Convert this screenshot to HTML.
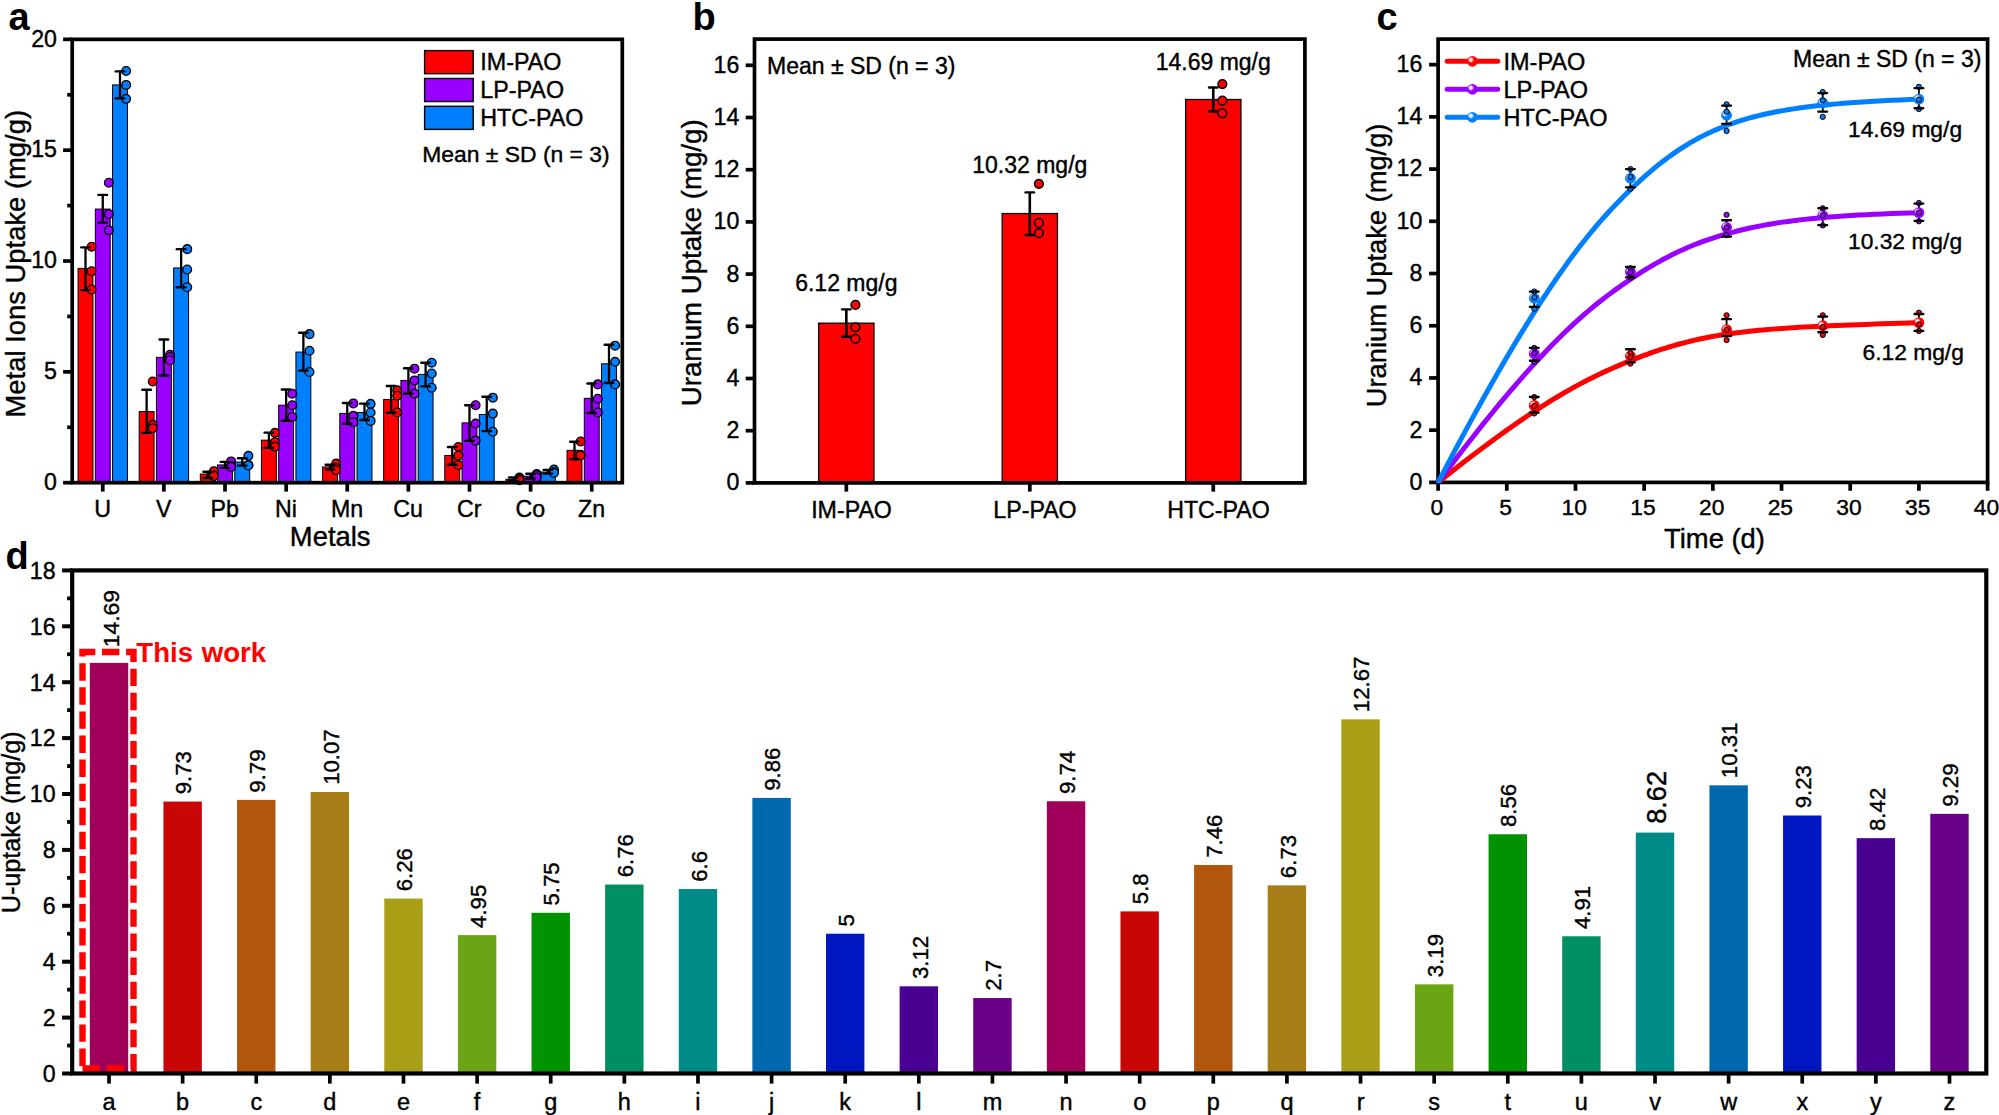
<!DOCTYPE html>
<html lang="en"><head><meta charset="utf-8"><title>Figure</title>
<style>html,body{margin:0;padding:0;background:#fff;}body{width:1999px;height:1115px;overflow:hidden;}svg text{font-family:"Liberation Sans",Arial,sans-serif;}</style></head>
<body>
<svg width="1999" height="1115" viewBox="0 0 1999 1115" font-family="'Liberation Sans', Arial, sans-serif" style="display:block">
<rect width="1999" height="1115" fill="#fff"/>
<rect x="78.06" y="268.4" width="14.9" height="214.3" fill="#ff0000" stroke="#000" stroke-width="1"/>
<rect x="95.31" y="209.08" width="14.9" height="273.62" fill="#9a00ff" stroke="#000" stroke-width="1"/>
<rect x="112.56" y="84.9" width="14.9" height="397.8" fill="#0080ff" stroke="#000" stroke-width="1"/>
<circle cx="91.61" cy="246.7" r="4.35" fill="#ff0000" stroke="#000" stroke-width="1.35"/>
<circle cx="91.61" cy="271.27" r="4.35" fill="#ff0000" stroke="#000" stroke-width="1.35"/>
<circle cx="91.61" cy="289.43" r="4.35" fill="#ff0000" stroke="#000" stroke-width="1.35"/>
<line x1="85.51" y1="247.37" x2="85.51" y2="290.09" stroke="#000" stroke-width="2.3" />
<line x1="81.21" y1="247.37" x2="89.81" y2="247.37" stroke="#000" stroke-width="2.4" stroke-linecap="round"/>
<line x1="81.21" y1="290.09" x2="89.81" y2="290.09" stroke="#000" stroke-width="2.4" stroke-linecap="round"/>
<circle cx="108.86" cy="182.73" r="4.35" fill="#9a00ff" stroke="#000" stroke-width="1.35"/>
<circle cx="108.86" cy="214.17" r="4.35" fill="#9a00ff" stroke="#000" stroke-width="1.35"/>
<circle cx="108.86" cy="230.33" r="4.35" fill="#9a00ff" stroke="#000" stroke-width="1.35"/>
<line x1="102.76" y1="194.91" x2="102.76" y2="222.58" stroke="#000" stroke-width="2.3" />
<line x1="98.46" y1="194.91" x2="107.06" y2="194.91" stroke="#000" stroke-width="2.4" stroke-linecap="round"/>
<line x1="98.46" y1="222.58" x2="107.06" y2="222.58" stroke="#000" stroke-width="2.4" stroke-linecap="round"/>
<circle cx="126.11" cy="70.95" r="4.35" fill="#0080ff" stroke="#000" stroke-width="1.35"/>
<circle cx="126.11" cy="84.9" r="4.35" fill="#0080ff" stroke="#000" stroke-width="1.35"/>
<circle cx="126.11" cy="98.84" r="4.35" fill="#0080ff" stroke="#000" stroke-width="1.35"/>
<line x1="120.01" y1="71.4" x2="120.01" y2="98.4" stroke="#000" stroke-width="2.3" />
<line x1="115.71" y1="71.4" x2="124.31" y2="71.4" stroke="#000" stroke-width="2.4" stroke-linecap="round"/>
<line x1="115.71" y1="98.4" x2="124.31" y2="98.4" stroke="#000" stroke-width="2.4" stroke-linecap="round"/>
<rect x="139.18" y="411.61" width="14.9" height="71.09" fill="#ff0000" stroke="#000" stroke-width="1"/>
<rect x="156.43" y="357.38" width="14.9" height="125.32" fill="#9a00ff" stroke="#000" stroke-width="1"/>
<rect x="173.68" y="267.95" width="14.9" height="214.75" fill="#0080ff" stroke="#000" stroke-width="1"/>
<circle cx="152.73" cy="381.51" r="4.35" fill="#ff0000" stroke="#000" stroke-width="1.35"/>
<circle cx="152.73" cy="424.89" r="4.35" fill="#ff0000" stroke="#000" stroke-width="1.35"/>
<circle cx="152.73" cy="428.21" r="4.35" fill="#ff0000" stroke="#000" stroke-width="1.35"/>
<line x1="146.63" y1="389.7" x2="146.63" y2="432.86" stroke="#000" stroke-width="2.3" />
<line x1="142.33" y1="389.7" x2="150.93" y2="389.7" stroke="#000" stroke-width="2.4" stroke-linecap="round"/>
<line x1="142.33" y1="432.86" x2="150.93" y2="432.86" stroke="#000" stroke-width="2.4" stroke-linecap="round"/>
<circle cx="169.98" cy="354.72" r="4.35" fill="#9a00ff" stroke="#000" stroke-width="1.35"/>
<circle cx="169.98" cy="356.94" r="4.35" fill="#9a00ff" stroke="#000" stroke-width="1.35"/>
<circle cx="169.98" cy="360.26" r="4.35" fill="#9a00ff" stroke="#000" stroke-width="1.35"/>
<line x1="163.88" y1="339.45" x2="163.88" y2="375.53" stroke="#000" stroke-width="2.3" />
<line x1="159.58" y1="339.45" x2="168.18" y2="339.45" stroke="#000" stroke-width="2.4" stroke-linecap="round"/>
<line x1="159.58" y1="375.53" x2="168.18" y2="375.53" stroke="#000" stroke-width="2.4" stroke-linecap="round"/>
<circle cx="187.23" cy="249.14" r="4.35" fill="#0080ff" stroke="#000" stroke-width="1.35"/>
<circle cx="187.23" cy="269.5" r="4.35" fill="#0080ff" stroke="#000" stroke-width="1.35"/>
<circle cx="187.23" cy="287.21" r="4.35" fill="#0080ff" stroke="#000" stroke-width="1.35"/>
<line x1="181.13" y1="249.14" x2="181.13" y2="287.21" stroke="#000" stroke-width="2.3" />
<line x1="176.83" y1="249.14" x2="185.43" y2="249.14" stroke="#000" stroke-width="2.4" stroke-linecap="round"/>
<line x1="176.83" y1="287.21" x2="185.43" y2="287.21" stroke="#000" stroke-width="2.4" stroke-linecap="round"/>
<rect x="200.31" y="474.03" width="14.9" height="8.67" fill="#ff0000" stroke="#000" stroke-width="1"/>
<rect x="217.56" y="464.96" width="14.9" height="17.74" fill="#9a00ff" stroke="#000" stroke-width="1"/>
<rect x="234.81" y="462.08" width="14.9" height="20.62" fill="#0080ff" stroke="#000" stroke-width="1"/>
<circle cx="213.86" cy="471.15" r="4.35" fill="#ff0000" stroke="#000" stroke-width="1.35"/>
<circle cx="213.86" cy="475.58" r="4.35" fill="#ff0000" stroke="#000" stroke-width="1.35"/>
<circle cx="213.86" cy="476.02" r="4.35" fill="#ff0000" stroke="#000" stroke-width="1.35"/>
<line x1="207.76" y1="471.82" x2="207.76" y2="478.02" stroke="#000" stroke-width="2.3" />
<line x1="203.46" y1="471.82" x2="212.06" y2="471.82" stroke="#000" stroke-width="2.4" stroke-linecap="round"/>
<line x1="203.46" y1="478.02" x2="212.06" y2="478.02" stroke="#000" stroke-width="2.4" stroke-linecap="round"/>
<circle cx="231.11" cy="461.41" r="4.35" fill="#9a00ff" stroke="#000" stroke-width="1.35"/>
<circle cx="231.11" cy="466.06" r="4.35" fill="#9a00ff" stroke="#000" stroke-width="1.35"/>
<circle cx="231.11" cy="466.95" r="4.35" fill="#9a00ff" stroke="#000" stroke-width="1.35"/>
<line x1="225.01" y1="461.86" x2="225.01" y2="467.83" stroke="#000" stroke-width="2.3" />
<line x1="220.71" y1="461.86" x2="229.31" y2="461.86" stroke="#000" stroke-width="2.4" stroke-linecap="round"/>
<line x1="220.71" y1="467.83" x2="229.31" y2="467.83" stroke="#000" stroke-width="2.4" stroke-linecap="round"/>
<circle cx="248.36" cy="455.88" r="4.35" fill="#0080ff" stroke="#000" stroke-width="1.35"/>
<circle cx="248.36" cy="464.96" r="4.35" fill="#0080ff" stroke="#000" stroke-width="1.35"/>
<circle cx="248.36" cy="465.4" r="4.35" fill="#0080ff" stroke="#000" stroke-width="1.35"/>
<line x1="242.26" y1="458.32" x2="242.26" y2="465.62" stroke="#000" stroke-width="2.3" />
<line x1="237.96" y1="458.32" x2="246.56" y2="458.32" stroke="#000" stroke-width="2.4" stroke-linecap="round"/>
<line x1="237.96" y1="465.62" x2="246.56" y2="465.62" stroke="#000" stroke-width="2.4" stroke-linecap="round"/>
<rect x="261.43" y="440.16" width="14.9" height="42.54" fill="#ff0000" stroke="#000" stroke-width="1"/>
<rect x="278.68" y="405.19" width="14.9" height="77.51" fill="#9a00ff" stroke="#000" stroke-width="1"/>
<rect x="295.93" y="352.07" width="14.9" height="130.63" fill="#0080ff" stroke="#000" stroke-width="1"/>
<circle cx="274.98" cy="432.86" r="4.35" fill="#ff0000" stroke="#000" stroke-width="1.35"/>
<circle cx="274.98" cy="442.16" r="4.35" fill="#ff0000" stroke="#000" stroke-width="1.35"/>
<circle cx="274.98" cy="446.58" r="4.35" fill="#ff0000" stroke="#000" stroke-width="1.35"/>
<line x1="268.88" y1="432.64" x2="268.88" y2="447.91" stroke="#000" stroke-width="2.3" />
<line x1="264.58" y1="432.64" x2="273.18" y2="432.64" stroke="#000" stroke-width="2.4" stroke-linecap="round"/>
<line x1="264.58" y1="447.91" x2="273.18" y2="447.91" stroke="#000" stroke-width="2.4" stroke-linecap="round"/>
<circle cx="292.23" cy="393.68" r="4.35" fill="#9a00ff" stroke="#000" stroke-width="1.35"/>
<circle cx="292.23" cy="405.19" r="4.35" fill="#9a00ff" stroke="#000" stroke-width="1.35"/>
<circle cx="292.23" cy="416.92" r="4.35" fill="#9a00ff" stroke="#000" stroke-width="1.35"/>
<line x1="286.13" y1="389.48" x2="286.13" y2="420.69" stroke="#000" stroke-width="2.3" />
<line x1="281.83" y1="389.48" x2="290.43" y2="389.48" stroke="#000" stroke-width="2.4" stroke-linecap="round"/>
<line x1="281.83" y1="420.69" x2="290.43" y2="420.69" stroke="#000" stroke-width="2.4" stroke-linecap="round"/>
<circle cx="309.48" cy="334.14" r="4.35" fill="#0080ff" stroke="#000" stroke-width="1.35"/>
<circle cx="309.48" cy="350.74" r="4.35" fill="#0080ff" stroke="#000" stroke-width="1.35"/>
<circle cx="309.48" cy="371.99" r="4.35" fill="#0080ff" stroke="#000" stroke-width="1.35"/>
<line x1="303.38" y1="332.81" x2="303.38" y2="370.66" stroke="#000" stroke-width="2.3" />
<line x1="299.08" y1="332.81" x2="307.68" y2="332.81" stroke="#000" stroke-width="2.4" stroke-linecap="round"/>
<line x1="299.08" y1="370.66" x2="307.68" y2="370.66" stroke="#000" stroke-width="2.4" stroke-linecap="round"/>
<rect x="322.55" y="466.95" width="14.9" height="15.75" fill="#ff0000" stroke="#000" stroke-width="1"/>
<rect x="339.8" y="413.38" width="14.9" height="69.32" fill="#9a00ff" stroke="#000" stroke-width="1"/>
<rect x="357.05" y="412.5" width="14.9" height="70.2" fill="#0080ff" stroke="#000" stroke-width="1"/>
<circle cx="336.1" cy="463.63" r="4.35" fill="#ff0000" stroke="#000" stroke-width="1.35"/>
<circle cx="336.1" cy="467.83" r="4.35" fill="#ff0000" stroke="#000" stroke-width="1.35"/>
<circle cx="336.1" cy="470.27" r="4.35" fill="#ff0000" stroke="#000" stroke-width="1.35"/>
<line x1="330" y1="464.73" x2="330" y2="469.6" stroke="#000" stroke-width="2.3" />
<line x1="325.7" y1="464.73" x2="334.3" y2="464.73" stroke="#000" stroke-width="2.4" stroke-linecap="round"/>
<line x1="325.7" y1="469.6" x2="334.3" y2="469.6" stroke="#000" stroke-width="2.4" stroke-linecap="round"/>
<circle cx="353.35" cy="403.42" r="4.35" fill="#9a00ff" stroke="#000" stroke-width="1.35"/>
<circle cx="353.35" cy="415.82" r="4.35" fill="#9a00ff" stroke="#000" stroke-width="1.35"/>
<circle cx="353.35" cy="422.24" r="4.35" fill="#9a00ff" stroke="#000" stroke-width="1.35"/>
<line x1="347.25" y1="402.98" x2="347.25" y2="423.78" stroke="#000" stroke-width="2.3" />
<line x1="342.95" y1="402.98" x2="351.55" y2="402.98" stroke="#000" stroke-width="2.4" stroke-linecap="round"/>
<line x1="342.95" y1="423.78" x2="351.55" y2="423.78" stroke="#000" stroke-width="2.4" stroke-linecap="round"/>
<circle cx="370.6" cy="403.86" r="4.35" fill="#0080ff" stroke="#000" stroke-width="1.35"/>
<circle cx="370.6" cy="412.5" r="4.35" fill="#0080ff" stroke="#000" stroke-width="1.35"/>
<circle cx="370.6" cy="420.91" r="4.35" fill="#0080ff" stroke="#000" stroke-width="1.35"/>
<line x1="364.5" y1="403.64" x2="364.5" y2="420.02" stroke="#000" stroke-width="2.3" />
<line x1="360.2" y1="403.64" x2="368.8" y2="403.64" stroke="#000" stroke-width="2.4" stroke-linecap="round"/>
<line x1="360.2" y1="420.02" x2="368.8" y2="420.02" stroke="#000" stroke-width="2.4" stroke-linecap="round"/>
<rect x="383.67" y="399.44" width="14.9" height="83.26" fill="#ff0000" stroke="#000" stroke-width="1"/>
<rect x="400.92" y="380.4" width="14.9" height="102.3" fill="#9a00ff" stroke="#000" stroke-width="1"/>
<rect x="418.17" y="374.42" width="14.9" height="108.28" fill="#0080ff" stroke="#000" stroke-width="1"/>
<circle cx="397.22" cy="390.36" r="4.35" fill="#ff0000" stroke="#000" stroke-width="1.35"/>
<circle cx="397.22" cy="395.67" r="4.35" fill="#ff0000" stroke="#000" stroke-width="1.35"/>
<circle cx="397.22" cy="412.5" r="4.35" fill="#ff0000" stroke="#000" stroke-width="1.35"/>
<line x1="391.12" y1="385.93" x2="391.12" y2="412.72" stroke="#000" stroke-width="2.3" />
<line x1="386.82" y1="385.93" x2="395.42" y2="385.93" stroke="#000" stroke-width="2.4" stroke-linecap="round"/>
<line x1="386.82" y1="412.72" x2="395.42" y2="412.72" stroke="#000" stroke-width="2.4" stroke-linecap="round"/>
<circle cx="414.47" cy="368.67" r="4.35" fill="#9a00ff" stroke="#000" stroke-width="1.35"/>
<circle cx="414.47" cy="380.4" r="4.35" fill="#9a00ff" stroke="#000" stroke-width="1.35"/>
<circle cx="414.47" cy="393.68" r="4.35" fill="#9a00ff" stroke="#000" stroke-width="1.35"/>
<line x1="408.37" y1="368.23" x2="408.37" y2="393.68" stroke="#000" stroke-width="2.3" />
<line x1="404.07" y1="368.23" x2="412.67" y2="368.23" stroke="#000" stroke-width="2.4" stroke-linecap="round"/>
<line x1="404.07" y1="393.68" x2="412.67" y2="393.68" stroke="#000" stroke-width="2.4" stroke-linecap="round"/>
<circle cx="431.72" cy="362.69" r="4.35" fill="#0080ff" stroke="#000" stroke-width="1.35"/>
<circle cx="431.72" cy="373.54" r="4.35" fill="#0080ff" stroke="#000" stroke-width="1.35"/>
<circle cx="431.72" cy="387.7" r="4.35" fill="#0080ff" stroke="#000" stroke-width="1.35"/>
<line x1="425.62" y1="362.69" x2="425.62" y2="386.38" stroke="#000" stroke-width="2.3" />
<line x1="421.32" y1="362.69" x2="429.92" y2="362.69" stroke="#000" stroke-width="2.4" stroke-linecap="round"/>
<line x1="421.32" y1="386.38" x2="429.92" y2="386.38" stroke="#000" stroke-width="2.4" stroke-linecap="round"/>
<rect x="444.79" y="455.44" width="14.9" height="27.26" fill="#ff0000" stroke="#000" stroke-width="1"/>
<rect x="462.04" y="422.9" width="14.9" height="59.8" fill="#9a00ff" stroke="#000" stroke-width="1"/>
<rect x="479.29" y="414.49" width="14.9" height="68.21" fill="#0080ff" stroke="#000" stroke-width="1"/>
<circle cx="458.34" cy="447.03" r="4.35" fill="#ff0000" stroke="#000" stroke-width="1.35"/>
<circle cx="458.34" cy="455.44" r="4.35" fill="#ff0000" stroke="#000" stroke-width="1.35"/>
<circle cx="458.34" cy="465.18" r="4.35" fill="#ff0000" stroke="#000" stroke-width="1.35"/>
<line x1="452.24" y1="447.03" x2="452.24" y2="464.73" stroke="#000" stroke-width="2.3" />
<line x1="447.94" y1="447.03" x2="456.54" y2="447.03" stroke="#000" stroke-width="2.4" stroke-linecap="round"/>
<line x1="447.94" y1="464.73" x2="456.54" y2="464.73" stroke="#000" stroke-width="2.4" stroke-linecap="round"/>
<circle cx="475.59" cy="405.19" r="4.35" fill="#9a00ff" stroke="#000" stroke-width="1.35"/>
<circle cx="475.59" cy="423.56" r="4.35" fill="#9a00ff" stroke="#000" stroke-width="1.35"/>
<circle cx="475.59" cy="440.61" r="4.35" fill="#9a00ff" stroke="#000" stroke-width="1.35"/>
<line x1="469.49" y1="405.19" x2="469.49" y2="440.83" stroke="#000" stroke-width="2.3" />
<line x1="465.19" y1="405.19" x2="473.79" y2="405.19" stroke="#000" stroke-width="2.4" stroke-linecap="round"/>
<line x1="465.19" y1="440.83" x2="473.79" y2="440.83" stroke="#000" stroke-width="2.4" stroke-linecap="round"/>
<circle cx="492.84" cy="397.67" r="4.35" fill="#0080ff" stroke="#000" stroke-width="1.35"/>
<circle cx="492.84" cy="413.6" r="4.35" fill="#0080ff" stroke="#000" stroke-width="1.35"/>
<circle cx="492.84" cy="431.75" r="4.35" fill="#0080ff" stroke="#000" stroke-width="1.35"/>
<line x1="486.74" y1="396.78" x2="486.74" y2="431.09" stroke="#000" stroke-width="2.3" />
<line x1="482.44" y1="396.78" x2="491.04" y2="396.78" stroke="#000" stroke-width="2.4" stroke-linecap="round"/>
<line x1="482.44" y1="431.09" x2="491.04" y2="431.09" stroke="#000" stroke-width="2.4" stroke-linecap="round"/>
<rect x="505.92" y="479.34" width="14.9" height="3.36" fill="#ff0000" stroke="#000" stroke-width="1"/>
<rect x="523.17" y="476.24" width="14.9" height="6.46" fill="#9a00ff" stroke="#000" stroke-width="1"/>
<rect x="540.42" y="472.04" width="14.9" height="10.66" fill="#0080ff" stroke="#000" stroke-width="1"/>
<circle cx="519.47" cy="477.57" r="4.35" fill="#ff0000" stroke="#000" stroke-width="1.35"/>
<circle cx="519.47" cy="479.34" r="4.35" fill="#ff0000" stroke="#000" stroke-width="1.35"/>
<circle cx="519.47" cy="480.23" r="4.35" fill="#ff0000" stroke="#000" stroke-width="1.35"/>
<line x1="513.37" y1="477.57" x2="513.37" y2="480.89" stroke="#000" stroke-width="2.3" />
<line x1="509.07" y1="477.57" x2="517.67" y2="477.57" stroke="#000" stroke-width="2.4" stroke-linecap="round"/>
<line x1="509.07" y1="480.89" x2="517.67" y2="480.89" stroke="#000" stroke-width="2.4" stroke-linecap="round"/>
<circle cx="536.72" cy="474.03" r="4.35" fill="#9a00ff" stroke="#000" stroke-width="1.35"/>
<circle cx="536.72" cy="475.14" r="4.35" fill="#9a00ff" stroke="#000" stroke-width="1.35"/>
<circle cx="536.72" cy="477.57" r="4.35" fill="#9a00ff" stroke="#000" stroke-width="1.35"/>
<line x1="530.62" y1="473.81" x2="530.62" y2="478.46" stroke="#000" stroke-width="2.3" />
<line x1="526.32" y1="473.81" x2="534.92" y2="473.81" stroke="#000" stroke-width="2.4" stroke-linecap="round"/>
<line x1="526.32" y1="478.46" x2="534.92" y2="478.46" stroke="#000" stroke-width="2.4" stroke-linecap="round"/>
<circle cx="553.97" cy="469.6" r="4.35" fill="#0080ff" stroke="#000" stroke-width="1.35"/>
<circle cx="553.97" cy="472.04" r="4.35" fill="#0080ff" stroke="#000" stroke-width="1.35"/>
<circle cx="553.97" cy="472.92" r="4.35" fill="#0080ff" stroke="#000" stroke-width="1.35"/>
<line x1="547.87" y1="469.83" x2="547.87" y2="473.59" stroke="#000" stroke-width="2.3" />
<line x1="543.57" y1="469.83" x2="552.17" y2="469.83" stroke="#000" stroke-width="2.4" stroke-linecap="round"/>
<line x1="543.57" y1="473.59" x2="552.17" y2="473.59" stroke="#000" stroke-width="2.4" stroke-linecap="round"/>
<rect x="567.04" y="450.35" width="14.9" height="32.35" fill="#ff0000" stroke="#000" stroke-width="1"/>
<rect x="584.29" y="398.33" width="14.9" height="84.37" fill="#9a00ff" stroke="#000" stroke-width="1"/>
<rect x="601.54" y="363.8" width="14.9" height="118.9" fill="#0080ff" stroke="#000" stroke-width="1"/>
<circle cx="580.59" cy="441.49" r="4.35" fill="#ff0000" stroke="#000" stroke-width="1.35"/>
<circle cx="580.59" cy="455" r="4.35" fill="#ff0000" stroke="#000" stroke-width="1.35"/>
<circle cx="580.59" cy="455.44" r="4.35" fill="#ff0000" stroke="#000" stroke-width="1.35"/>
<line x1="574.49" y1="441.71" x2="574.49" y2="459.2" stroke="#000" stroke-width="2.3" />
<line x1="570.19" y1="441.71" x2="578.79" y2="441.71" stroke="#000" stroke-width="2.4" stroke-linecap="round"/>
<line x1="570.19" y1="459.2" x2="578.79" y2="459.2" stroke="#000" stroke-width="2.4" stroke-linecap="round"/>
<circle cx="597.84" cy="384.38" r="4.35" fill="#9a00ff" stroke="#000" stroke-width="1.35"/>
<circle cx="597.84" cy="398.77" r="4.35" fill="#9a00ff" stroke="#000" stroke-width="1.35"/>
<circle cx="597.84" cy="412.5" r="4.35" fill="#9a00ff" stroke="#000" stroke-width="1.35"/>
<line x1="591.74" y1="383.5" x2="591.74" y2="412.94" stroke="#000" stroke-width="2.3" />
<line x1="587.44" y1="383.5" x2="596.04" y2="383.5" stroke="#000" stroke-width="2.4" stroke-linecap="round"/>
<line x1="587.44" y1="412.94" x2="596.04" y2="412.94" stroke="#000" stroke-width="2.4" stroke-linecap="round"/>
<circle cx="615.09" cy="345.65" r="4.35" fill="#0080ff" stroke="#000" stroke-width="1.35"/>
<circle cx="615.09" cy="361.81" r="4.35" fill="#0080ff" stroke="#000" stroke-width="1.35"/>
<circle cx="615.09" cy="384.38" r="4.35" fill="#0080ff" stroke="#000" stroke-width="1.35"/>
<line x1="608.99" y1="344.76" x2="608.99" y2="383.06" stroke="#000" stroke-width="2.3" />
<line x1="604.69" y1="344.76" x2="613.29" y2="344.76" stroke="#000" stroke-width="2.4" stroke-linecap="round"/>
<line x1="604.69" y1="383.06" x2="613.29" y2="383.06" stroke="#000" stroke-width="2.4" stroke-linecap="round"/>
<line x1="63.1" y1="482.7" x2="72.2" y2="482.7" stroke="#000" stroke-width="3.7" />
<text x="57" y="490" font-size="23.2" text-anchor="end" font-weight="normal" fill="#000" stroke="#000" stroke-width="0.4" >0</text>
<line x1="63.1" y1="371.86" x2="72.2" y2="371.86" stroke="#000" stroke-width="3.7" />
<text x="57" y="379.16" font-size="23.2" text-anchor="end" font-weight="normal" fill="#000" stroke="#000" stroke-width="0.4" >5</text>
<line x1="63.1" y1="261.03" x2="72.2" y2="261.03" stroke="#000" stroke-width="3.7" />
<text x="57" y="268.33" font-size="23.2" text-anchor="end" font-weight="normal" fill="#000" stroke="#000" stroke-width="0.4" >10</text>
<line x1="63.1" y1="150.19" x2="72.2" y2="150.19" stroke="#000" stroke-width="3.7" />
<text x="57" y="157.49" font-size="23.2" text-anchor="end" font-weight="normal" fill="#000" stroke="#000" stroke-width="0.4" >15</text>
<line x1="63.1" y1="39.35" x2="72.2" y2="39.35" stroke="#000" stroke-width="3.7" />
<text x="57" y="46.65" font-size="23.2" text-anchor="end" font-weight="normal" fill="#000" stroke="#000" stroke-width="0.4" >20</text>
<line x1="67.2" y1="427.28" x2="72.2" y2="427.28" stroke="#000" stroke-width="3.7" />
<line x1="67.2" y1="316.44" x2="72.2" y2="316.44" stroke="#000" stroke-width="3.7" />
<line x1="67.2" y1="205.61" x2="72.2" y2="205.61" stroke="#000" stroke-width="3.7" />
<line x1="67.2" y1="94.77" x2="72.2" y2="94.77" stroke="#000" stroke-width="3.7" />
<line x1="102.76" y1="482.7" x2="102.76" y2="491.6" stroke="#000" stroke-width="3.7" />
<text x="102.56" y="516.6" font-size="23.2" text-anchor="middle" font-weight="normal" fill="#000" stroke="#000" stroke-width="0.4" >U</text>
<line x1="163.88" y1="482.7" x2="163.88" y2="491.6" stroke="#000" stroke-width="3.7" />
<text x="163.68" y="516.6" font-size="23.2" text-anchor="middle" font-weight="normal" fill="#000" stroke="#000" stroke-width="0.4" >V</text>
<line x1="225.01" y1="482.7" x2="225.01" y2="491.6" stroke="#000" stroke-width="3.7" />
<text x="224.81" y="516.6" font-size="23.2" text-anchor="middle" font-weight="normal" fill="#000" stroke="#000" stroke-width="0.4" >Pb</text>
<line x1="286.13" y1="482.7" x2="286.13" y2="491.6" stroke="#000" stroke-width="3.7" />
<text x="285.93" y="516.6" font-size="23.2" text-anchor="middle" font-weight="normal" fill="#000" stroke="#000" stroke-width="0.4" >Ni</text>
<line x1="347.25" y1="482.7" x2="347.25" y2="491.6" stroke="#000" stroke-width="3.7" />
<text x="347.05" y="516.6" font-size="23.2" text-anchor="middle" font-weight="normal" fill="#000" stroke="#000" stroke-width="0.4" >Mn</text>
<line x1="408.37" y1="482.7" x2="408.37" y2="491.6" stroke="#000" stroke-width="3.7" />
<text x="408.17" y="516.6" font-size="23.2" text-anchor="middle" font-weight="normal" fill="#000" stroke="#000" stroke-width="0.4" >Cu</text>
<line x1="469.49" y1="482.7" x2="469.49" y2="491.6" stroke="#000" stroke-width="3.7" />
<text x="469.29" y="516.6" font-size="23.2" text-anchor="middle" font-weight="normal" fill="#000" stroke="#000" stroke-width="0.4" >Cr</text>
<line x1="530.62" y1="482.7" x2="530.62" y2="491.6" stroke="#000" stroke-width="3.7" />
<text x="530.42" y="516.6" font-size="23.2" text-anchor="middle" font-weight="normal" fill="#000" stroke="#000" stroke-width="0.4" >Co</text>
<line x1="591.74" y1="482.7" x2="591.74" y2="491.6" stroke="#000" stroke-width="3.7" />
<text x="591.54" y="516.6" font-size="23.2" text-anchor="middle" font-weight="normal" fill="#000" stroke="#000" stroke-width="0.4" >Zn</text>
<rect x="72.2" y="39.35" width="550.1" height="443.35" fill="none" stroke="#000" stroke-width="3.7"/>
<text x="330.2" y="545.6" font-size="27.4" text-anchor="middle" font-weight="normal" fill="#000" stroke="#000" stroke-width="0.4" >Metals</text>
<text x="25" y="263.7" font-size="27.4" text-anchor="middle" font-weight="normal" fill="#000" stroke="#000" stroke-width="0.4" transform="rotate(-90 25 263.7)" >Metal Ions Uptake (mg/g)</text>
<text x="8.6" y="29.6" font-size="38" text-anchor="start" font-weight="bold" fill="#000" >a</text>
<rect x="424.6" y="50.6" width="48.6" height="23.1" fill="#ff0000" stroke="#000" stroke-width="1.4"/>
<text x="480.3" y="70" font-size="23.3" text-anchor="start" font-weight="normal" fill="#000" stroke="#000" stroke-width="0.4" >IM-PAO</text>
<rect x="424.6" y="78.45" width="48.6" height="23.1" fill="#9a00ff" stroke="#000" stroke-width="1.4"/>
<text x="480.3" y="97.8" font-size="23.3" text-anchor="start" font-weight="normal" fill="#000" stroke="#000" stroke-width="0.4" >LP-PAO</text>
<rect x="424.6" y="106.3" width="48.6" height="23.1" fill="#0080ff" stroke="#000" stroke-width="1.4"/>
<text x="480.3" y="125.6" font-size="23.3" text-anchor="start" font-weight="normal" fill="#000" stroke="#000" stroke-width="0.4" >HTC-PAO</text>
<text x="422.2" y="161.7" font-size="22.9" text-anchor="start" font-weight="normal" fill="#000" stroke="#000" stroke-width="0.4" >Mean ± SD (n = 3)</text>
<rect x="818.68" y="323.17" width="55.3" height="159.73" fill="#ff0000" stroke="#000" stroke-width="1.3"/>
<line x1="846.33" y1="309.33" x2="846.33" y2="336.74" stroke="#000" stroke-width="2.6" />
<line x1="842.13" y1="309.33" x2="850.53" y2="309.33" stroke="#000" stroke-width="2.4" stroke-linecap="round"/>
<line x1="842.13" y1="336.74" x2="850.53" y2="336.74" stroke="#000" stroke-width="2.4" stroke-linecap="round"/>
<circle cx="855.43" cy="304.9" r="4.35" fill="#ff0000" stroke="#000" stroke-width="1.5"/>
<circle cx="855.43" cy="327.34" r="4.35" fill="#ff0000" stroke="#000" stroke-width="1.5"/>
<circle cx="855.43" cy="338.83" r="4.35" fill="#ff0000" stroke="#000" stroke-width="1.5"/>
<text x="846.33" y="291.1" font-size="23" text-anchor="middle" font-weight="normal" fill="#000" stroke="#000" stroke-width="0.4" >6.12 mg/g</text>
<line x1="846.33" y1="482.9" x2="846.33" y2="491.6" stroke="#000" stroke-width="3.7" />
<text x="851.53" y="517.5" font-size="23.2" text-anchor="middle" font-weight="normal" fill="#000" stroke="#000" stroke-width="0.4" >IM-PAO</text>
<rect x="1002.15" y="213.55" width="55.3" height="269.35" fill="#ff0000" stroke="#000" stroke-width="1.3"/>
<line x1="1029.8" y1="192.41" x2="1029.8" y2="234.95" stroke="#000" stroke-width="2.6" />
<line x1="1025.6" y1="192.41" x2="1034" y2="192.41" stroke="#000" stroke-width="2.4" stroke-linecap="round"/>
<line x1="1025.6" y1="234.95" x2="1034" y2="234.95" stroke="#000" stroke-width="2.4" stroke-linecap="round"/>
<circle cx="1038.9" cy="183.79" r="4.35" fill="#ff0000" stroke="#000" stroke-width="1.5"/>
<circle cx="1038.9" cy="222.94" r="4.35" fill="#ff0000" stroke="#000" stroke-width="1.5"/>
<circle cx="1038.9" cy="233.12" r="4.35" fill="#ff0000" stroke="#000" stroke-width="1.5"/>
<text x="1029.8" y="172.6" font-size="23" text-anchor="middle" font-weight="normal" fill="#000" stroke="#000" stroke-width="0.4" >10.32 mg/g</text>
<line x1="1029.8" y1="482.9" x2="1029.8" y2="491.6" stroke="#000" stroke-width="3.7" />
<text x="1035" y="517.5" font-size="23.2" text-anchor="middle" font-weight="normal" fill="#000" stroke="#000" stroke-width="0.4" >LP-PAO</text>
<rect x="1185.62" y="99.49" width="55.3" height="383.41" fill="#ff0000" stroke="#000" stroke-width="1.3"/>
<line x1="1213.27" y1="87.48" x2="1213.27" y2="111.5" stroke="#000" stroke-width="2.6" />
<line x1="1209.07" y1="87.48" x2="1217.47" y2="87.48" stroke="#000" stroke-width="2.4" stroke-linecap="round"/>
<line x1="1209.07" y1="111.5" x2="1217.47" y2="111.5" stroke="#000" stroke-width="2.4" stroke-linecap="round"/>
<circle cx="1222.37" cy="84.09" r="4.35" fill="#ff0000" stroke="#000" stroke-width="1.5"/>
<circle cx="1222.37" cy="100.53" r="4.35" fill="#ff0000" stroke="#000" stroke-width="1.5"/>
<circle cx="1222.37" cy="113.32" r="4.35" fill="#ff0000" stroke="#000" stroke-width="1.5"/>
<text x="1213.27" y="69.9" font-size="23" text-anchor="middle" font-weight="normal" fill="#000" stroke="#000" stroke-width="0.4" >14.69 mg/g</text>
<line x1="1213.27" y1="482.9" x2="1213.27" y2="491.6" stroke="#000" stroke-width="3.7" />
<text x="1218.47" y="517.5" font-size="23.2" text-anchor="middle" font-weight="normal" fill="#000" stroke="#000" stroke-width="0.4" >HTC-PAO</text>
<line x1="745.7" y1="482.9" x2="754.5" y2="482.9" stroke="#000" stroke-width="3.7" />
<text x="739.3" y="490.3" font-size="23.2" text-anchor="end" font-weight="normal" fill="#000" stroke="#000" stroke-width="0.4" >0</text>
<line x1="745.7" y1="430.7" x2="754.5" y2="430.7" stroke="#000" stroke-width="3.7" />
<text x="739.3" y="438.1" font-size="23.2" text-anchor="end" font-weight="normal" fill="#000" stroke="#000" stroke-width="0.4" >2</text>
<line x1="745.7" y1="378.5" x2="754.5" y2="378.5" stroke="#000" stroke-width="3.7" />
<text x="739.3" y="385.9" font-size="23.2" text-anchor="end" font-weight="normal" fill="#000" stroke="#000" stroke-width="0.4" >4</text>
<line x1="745.7" y1="326.3" x2="754.5" y2="326.3" stroke="#000" stroke-width="3.7" />
<text x="739.3" y="333.7" font-size="23.2" text-anchor="end" font-weight="normal" fill="#000" stroke="#000" stroke-width="0.4" >6</text>
<line x1="745.7" y1="274.1" x2="754.5" y2="274.1" stroke="#000" stroke-width="3.7" />
<text x="739.3" y="281.5" font-size="23.2" text-anchor="end" font-weight="normal" fill="#000" stroke="#000" stroke-width="0.4" >8</text>
<line x1="745.7" y1="221.9" x2="754.5" y2="221.9" stroke="#000" stroke-width="3.7" />
<text x="739.3" y="229.3" font-size="23.2" text-anchor="end" font-weight="normal" fill="#000" stroke="#000" stroke-width="0.4" >10</text>
<line x1="745.7" y1="169.7" x2="754.5" y2="169.7" stroke="#000" stroke-width="3.7" />
<text x="739.3" y="177.1" font-size="23.2" text-anchor="end" font-weight="normal" fill="#000" stroke="#000" stroke-width="0.4" >12</text>
<line x1="745.7" y1="117.5" x2="754.5" y2="117.5" stroke="#000" stroke-width="3.7" />
<text x="739.3" y="124.9" font-size="23.2" text-anchor="end" font-weight="normal" fill="#000" stroke="#000" stroke-width="0.4" >14</text>
<line x1="745.7" y1="65.3" x2="754.5" y2="65.3" stroke="#000" stroke-width="3.7" />
<text x="739.3" y="72.7" font-size="23.2" text-anchor="end" font-weight="normal" fill="#000" stroke="#000" stroke-width="0.4" >16</text>
<rect x="754.5" y="39.1" width="550.4" height="443.8" fill="none" stroke="#000" stroke-width="3.7"/>
<text x="767" y="73.8" font-size="23" text-anchor="start" font-weight="normal" fill="#000" stroke="#000" stroke-width="0.4" >Mean ± SD (n = 3)</text>
<text x="700.9" y="262.8" font-size="27.6" text-anchor="middle" font-weight="normal" fill="#000" stroke="#000" stroke-width="0.4" transform="rotate(-90 700.9 262.8)" >Uranium Uptake (mg/g)</text>
<text x="692.5" y="29.6" font-size="38" text-anchor="start" font-weight="bold" fill="#000" >b</text>
<defs>
<radialGradient id="rb" cx="0.36" cy="0.36" r="0.3"><stop offset="0" stop-color="#fff"/><stop offset="0.45" stop-color="#ffd0d0"/><stop offset="1" stop-color="#ff0000"/></radialGradient>
<radialGradient id="pb" cx="0.36" cy="0.36" r="0.3"><stop offset="0" stop-color="#fff"/><stop offset="0.45" stop-color="#ecd0ff"/><stop offset="1" stop-color="#9a00ff"/></radialGradient>
<radialGradient id="bb" cx="0.36" cy="0.36" r="0.3"><stop offset="0" stop-color="#fff"/><stop offset="0.45" stop-color="#d0e8ff"/><stop offset="1" stop-color="#0080ff"/></radialGradient>
</defs>
<line x1="1429.1" y1="482.4" x2="1438.1" y2="482.4" stroke="#000" stroke-width="3.7" />
<text x="1422.3" y="489.8" font-size="23.2" text-anchor="end" font-weight="normal" fill="#000" stroke="#000" stroke-width="0.4" >0</text>
<line x1="1429.1" y1="430.18" x2="1438.1" y2="430.18" stroke="#000" stroke-width="3.7" />
<text x="1422.3" y="437.58" font-size="23.2" text-anchor="end" font-weight="normal" fill="#000" stroke="#000" stroke-width="0.4" >2</text>
<line x1="1429.1" y1="377.96" x2="1438.1" y2="377.96" stroke="#000" stroke-width="3.7" />
<text x="1422.3" y="385.36" font-size="23.2" text-anchor="end" font-weight="normal" fill="#000" stroke="#000" stroke-width="0.4" >4</text>
<line x1="1429.1" y1="325.74" x2="1438.1" y2="325.74" stroke="#000" stroke-width="3.7" />
<text x="1422.3" y="333.14" font-size="23.2" text-anchor="end" font-weight="normal" fill="#000" stroke="#000" stroke-width="0.4" >6</text>
<line x1="1429.1" y1="273.52" x2="1438.1" y2="273.52" stroke="#000" stroke-width="3.7" />
<text x="1422.3" y="280.92" font-size="23.2" text-anchor="end" font-weight="normal" fill="#000" stroke="#000" stroke-width="0.4" >8</text>
<line x1="1429.1" y1="221.3" x2="1438.1" y2="221.3" stroke="#000" stroke-width="3.7" />
<text x="1422.3" y="228.7" font-size="23.2" text-anchor="end" font-weight="normal" fill="#000" stroke="#000" stroke-width="0.4" >10</text>
<line x1="1429.1" y1="169.08" x2="1438.1" y2="169.08" stroke="#000" stroke-width="3.7" />
<text x="1422.3" y="176.48" font-size="23.2" text-anchor="end" font-weight="normal" fill="#000" stroke="#000" stroke-width="0.4" >12</text>
<line x1="1429.1" y1="116.86" x2="1438.1" y2="116.86" stroke="#000" stroke-width="3.7" />
<text x="1422.3" y="124.26" font-size="23.2" text-anchor="end" font-weight="normal" fill="#000" stroke="#000" stroke-width="0.4" >14</text>
<line x1="1429.1" y1="64.64" x2="1438.1" y2="64.64" stroke="#000" stroke-width="3.7" />
<text x="1422.3" y="72.04" font-size="23.2" text-anchor="end" font-weight="normal" fill="#000" stroke="#000" stroke-width="0.4" >16</text>
<line x1="1438.1" y1="482.4" x2="1438.1" y2="490.8" stroke="#000" stroke-width="3.7" />
<text x="1436.9" y="515.4" font-size="22.8" text-anchor="middle" font-weight="normal" fill="#000" stroke="#000" stroke-width="0.4" >0</text>
<line x1="1506.79" y1="482.4" x2="1506.79" y2="490.8" stroke="#000" stroke-width="3.7" />
<text x="1505.59" y="515.4" font-size="22.8" text-anchor="middle" font-weight="normal" fill="#000" stroke="#000" stroke-width="0.4" >5</text>
<line x1="1575.47" y1="482.4" x2="1575.47" y2="490.8" stroke="#000" stroke-width="3.7" />
<text x="1574.27" y="515.4" font-size="22.8" text-anchor="middle" font-weight="normal" fill="#000" stroke="#000" stroke-width="0.4" >10</text>
<line x1="1644.16" y1="482.4" x2="1644.16" y2="490.8" stroke="#000" stroke-width="3.7" />
<text x="1642.96" y="515.4" font-size="22.8" text-anchor="middle" font-weight="normal" fill="#000" stroke="#000" stroke-width="0.4" >15</text>
<line x1="1712.85" y1="482.4" x2="1712.85" y2="490.8" stroke="#000" stroke-width="3.7" />
<text x="1711.65" y="515.4" font-size="22.8" text-anchor="middle" font-weight="normal" fill="#000" stroke="#000" stroke-width="0.4" >20</text>
<line x1="1781.54" y1="482.4" x2="1781.54" y2="490.8" stroke="#000" stroke-width="3.7" />
<text x="1780.34" y="515.4" font-size="22.8" text-anchor="middle" font-weight="normal" fill="#000" stroke="#000" stroke-width="0.4" >25</text>
<line x1="1850.22" y1="482.4" x2="1850.22" y2="490.8" stroke="#000" stroke-width="3.7" />
<text x="1849.02" y="515.4" font-size="22.8" text-anchor="middle" font-weight="normal" fill="#000" stroke="#000" stroke-width="0.4" >30</text>
<line x1="1918.91" y1="482.4" x2="1918.91" y2="490.8" stroke="#000" stroke-width="3.7" />
<text x="1917.71" y="515.4" font-size="22.8" text-anchor="middle" font-weight="normal" fill="#000" stroke="#000" stroke-width="0.4" >35</text>
<line x1="1987.6" y1="482.4" x2="1987.6" y2="490.8" stroke="#000" stroke-width="3.7" />
<text x="1986.4" y="515.4" font-size="22.8" text-anchor="middle" font-weight="normal" fill="#000" stroke="#000" stroke-width="0.4" >40</text>
<rect x="1438.1" y="39.1" width="549.5" height="443.3" fill="none" stroke="#000" stroke-width="3.7"/>
<clipPath id="cclip"><rect x="1436.4" y="39.1" width="549.5" height="444.2"/></clipPath>
<g clip-path="url(#cclip)">
<path d="M1423.76,493.82 L1438.1,482.4 L1447.66,474.79 L1456.91,467.52 L1465.84,460.59 L1474.47,453.99 L1482.82,447.7 L1490.88,441.72 L1498.67,436.04 L1506.19,430.64 L1513.46,425.51 L1520.49,420.65 L1527.28,416.05 L1533.84,411.69 L1540.19,407.56 L1546.33,403.66 L1552.27,399.97 L1558.02,396.49 L1563.59,393.2 L1568.99,390.1 L1574.22,387.16 L1579.31,384.39 L1584.25,381.77 L1589.05,379.3 L1593.73,376.96 L1598.29,374.74 L1602.75,372.63 L1607.11,370.62 L1611.38,368.71 L1615.58,366.87 L1619.7,365.11 L1623.76,363.41 L1627.77,361.76 L1631.72,360.17 L1635.64,358.62 L1639.51,357.13 L1643.34,355.69 L1647.13,354.3 L1650.9,352.95 L1654.63,351.65 L1658.35,350.39 L1662.04,349.18 L1665.72,348.02 L1669.38,346.89 L1673.03,345.81 L1676.68,344.77 L1680.33,343.76 L1683.98,342.8 L1687.63,341.87 L1691.3,340.98 L1694.97,340.12 L1698.66,339.3 L1702.38,338.51 L1706.11,337.75 L1709.88,337.03 L1713.68,336.33 L1717.51,335.66 L1721.38,335.02 L1725.29,334.41 L1729.25,333.82 L1733.25,333.26 L1737.31,332.72 L1741.44,332.2 L1745.63,331.7 L1749.9,331.23 L1754.26,330.77 L1758.72,330.33 L1763.28,329.91 L1767.96,329.51 L1772.77,329.12 L1777.71,328.75 L1782.79,328.39 L1788.03,328.04 L1793.43,327.7 L1798.99,327.37 L1804.74,327.05 L1810.68,326.74 L1816.82,326.44 L1823.17,326.14 L1829.73,325.84 L1836.52,325.55 L1843.55,325.26 L1850.82,324.98 L1858.35,324.69 L1866.14,324.4 L1874.2,324.11 L1882.54,323.82 L1891.17,323.53 L1900.11,323.23 L1909.35,322.92 L1918.91,322.61" fill="none" stroke="#ff0000" stroke-width="5" stroke-linejoin="round" stroke-linecap="butt"/>
<path d="M1423.76,501.48 L1438.1,482.4 L1447.66,469.68 L1456.91,457.54 L1465.84,445.96 L1474.47,434.93 L1482.82,424.43 L1490.88,414.45 L1498.67,404.95 L1506.19,395.94 L1513.46,387.39 L1520.49,379.28 L1527.28,371.59 L1533.84,364.32 L1540.19,357.44 L1546.33,350.93 L1552.27,344.78 L1558.02,338.98 L1563.59,333.49 L1568.99,328.32 L1574.22,323.43 L1579.31,318.81 L1584.25,314.45 L1589.05,310.33 L1593.73,306.43 L1598.29,302.73 L1602.75,299.22 L1607.11,295.87 L1611.38,292.68 L1615.58,289.63 L1619.7,286.69 L1623.76,283.86 L1627.77,281.11 L1631.72,278.45 L1635.64,275.87 L1639.51,273.38 L1643.34,270.97 L1647.13,268.63 L1650.9,266.37 L1654.63,264.19 L1658.35,262.08 L1662.04,260.04 L1665.72,258.07 L1669.38,256.17 L1673.03,254.33 L1676.68,252.55 L1680.33,250.83 L1683.98,249.18 L1687.63,247.58 L1691.3,246.03 L1694.97,244.54 L1698.66,243.09 L1702.38,241.7 L1706.11,240.35 L1709.88,239.05 L1713.68,237.79 L1717.51,236.57 L1721.38,235.39 L1725.29,234.24 L1729.25,233.13 L1733.25,232.05 L1737.31,231.01 L1741.44,229.99 L1745.63,229 L1749.9,228.04 L1754.26,227.11 L1758.72,226.21 L1763.28,225.34 L1767.96,224.5 L1772.77,223.69 L1777.71,222.9 L1782.79,222.14 L1788.03,221.41 L1793.43,220.7 L1798.99,220.03 L1804.74,219.38 L1810.68,218.75 L1816.82,218.16 L1823.17,217.58 L1829.73,217.04 L1836.52,216.52 L1843.55,216.03 L1850.82,215.56 L1858.35,215.11 L1866.14,214.69 L1874.2,214.3 L1882.54,213.93 L1891.17,213.58 L1900.11,213.26 L1909.35,212.96 L1918.91,212.68" fill="none" stroke="#9a00ff" stroke-width="5" stroke-linejoin="round" stroke-linecap="butt"/>
<path d="M1423.76,509.73 L1438.1,482.4 L1447.66,464.18 L1456.91,446.78 L1465.84,430.19 L1474.47,414.37 L1482.82,399.3 L1490.88,384.95 L1498.67,371.32 L1506.19,358.36 L1513.46,346.05 L1520.49,334.38 L1527.28,323.32 L1533.84,312.83 L1540.19,302.91 L1546.33,293.52 L1552.27,284.64 L1558.02,276.25 L1563.59,268.32 L1568.99,260.83 L1574.22,253.75 L1579.31,247.07 L1584.25,240.74 L1589.05,234.76 L1593.73,229.1 L1598.29,223.73 L1602.75,218.63 L1607.11,213.78 L1611.38,209.15 L1615.58,204.71 L1619.7,200.45 L1623.76,196.34 L1627.77,192.36 L1631.72,188.5 L1635.64,184.78 L1639.51,181.18 L1643.34,177.69 L1647.13,174.33 L1650.9,171.08 L1654.63,167.95 L1658.35,164.92 L1662.04,162 L1665.72,159.19 L1669.38,156.47 L1673.03,153.86 L1676.68,151.33 L1680.33,148.91 L1683.98,146.57 L1687.63,144.32 L1691.3,142.15 L1694.97,140.07 L1698.66,138.06 L1702.38,136.14 L1706.11,134.28 L1709.88,132.49 L1713.68,130.78 L1717.51,129.12 L1721.38,127.53 L1725.29,126 L1729.25,124.53 L1733.25,123.11 L1737.31,121.74 L1741.44,120.42 L1745.63,119.15 L1749.9,117.93 L1754.26,116.75 L1758.72,115.61 L1763.28,114.53 L1767.96,113.48 L1772.77,112.48 L1777.71,111.51 L1782.79,110.59 L1788.03,109.7 L1793.43,108.85 L1798.99,108.04 L1804.74,107.27 L1810.68,106.52 L1816.82,105.81 L1823.17,105.14 L1829.73,104.49 L1836.52,103.87 L1843.55,103.29 L1850.82,102.72 L1858.35,102.19 L1866.14,101.68 L1874.2,101.2 L1882.54,100.74 L1891.17,100.3 L1900.11,99.88 L1909.35,99.48 L1918.91,99.11" fill="none" stroke="#0080ff" stroke-width="5" stroke-linejoin="round" stroke-linecap="butt"/>
</g>
<line x1="1534.26" y1="397.02" x2="1534.26" y2="412.69" stroke="#000" stroke-width="1.8" />
<circle cx="1534.26" cy="405.38" r="5.4" fill="url(#rb)"/>
<circle cx="1534.26" cy="397.02" r="2.6" fill="#ff0000" stroke="#000" stroke-width="1"/>
<circle cx="1534.26" cy="405.9" r="2.6" fill="#ff0000" stroke="#000" stroke-width="1"/>
<circle cx="1534.26" cy="413.47" r="2.6" fill="#ff0000" stroke="#000" stroke-width="1"/>
<line x1="1529.86" y1="397.02" x2="1538.66" y2="397.02" stroke="#000" stroke-width="2.3" stroke-linecap="round"/>
<line x1="1529.86" y1="412.69" x2="1538.66" y2="412.69" stroke="#000" stroke-width="2.3" stroke-linecap="round"/>
<line x1="1630.42" y1="349.24" x2="1630.42" y2="362.29" stroke="#000" stroke-width="1.8" />
<circle cx="1630.42" cy="356.03" r="5.4" fill="url(#rb)"/>
<circle cx="1630.42" cy="353.16" r="2.6" fill="#ff0000" stroke="#000" stroke-width="1"/>
<circle cx="1630.42" cy="357.07" r="2.6" fill="#ff0000" stroke="#000" stroke-width="1"/>
<circle cx="1630.42" cy="363.6" r="2.6" fill="#ff0000" stroke="#000" stroke-width="1"/>
<line x1="1626.02" y1="349.24" x2="1634.83" y2="349.24" stroke="#000" stroke-width="2.3" stroke-linecap="round"/>
<line x1="1626.02" y1="362.29" x2="1634.83" y2="362.29" stroke="#000" stroke-width="2.3" stroke-linecap="round"/>
<line x1="1726.59" y1="319.21" x2="1726.59" y2="336.18" stroke="#000" stroke-width="1.8" />
<circle cx="1726.59" cy="329.66" r="5.4" fill="url(#rb)"/>
<circle cx="1726.59" cy="315.3" r="2.6" fill="#ff0000" stroke="#000" stroke-width="1"/>
<circle cx="1726.59" cy="329.66" r="2.6" fill="#ff0000" stroke="#000" stroke-width="1"/>
<circle cx="1726.59" cy="340.1" r="2.6" fill="#ff0000" stroke="#000" stroke-width="1"/>
<line x1="1722.19" y1="319.21" x2="1730.99" y2="319.21" stroke="#000" stroke-width="2.3" stroke-linecap="round"/>
<line x1="1722.19" y1="336.18" x2="1730.99" y2="336.18" stroke="#000" stroke-width="2.3" stroke-linecap="round"/>
<line x1="1822.75" y1="316.6" x2="1822.75" y2="332.27" stroke="#000" stroke-width="1.8" />
<circle cx="1822.75" cy="325.74" r="5.4" fill="url(#rb)"/>
<circle cx="1822.75" cy="315.3" r="2.6" fill="#ff0000" stroke="#000" stroke-width="1"/>
<circle cx="1822.75" cy="327.05" r="2.6" fill="#ff0000" stroke="#000" stroke-width="1"/>
<circle cx="1822.75" cy="334.88" r="2.6" fill="#ff0000" stroke="#000" stroke-width="1"/>
<line x1="1818.35" y1="316.6" x2="1827.15" y2="316.6" stroke="#000" stroke-width="2.3" stroke-linecap="round"/>
<line x1="1818.35" y1="332.27" x2="1827.15" y2="332.27" stroke="#000" stroke-width="2.3" stroke-linecap="round"/>
<line x1="1918.91" y1="313.99" x2="1918.91" y2="330.96" stroke="#000" stroke-width="1.8" />
<circle cx="1918.91" cy="322.61" r="5.4" fill="url(#rb)"/>
<circle cx="1918.91" cy="312.68" r="2.6" fill="#ff0000" stroke="#000" stroke-width="1"/>
<circle cx="1918.91" cy="324.43" r="2.6" fill="#ff0000" stroke="#000" stroke-width="1"/>
<circle cx="1918.91" cy="330.96" r="2.6" fill="#ff0000" stroke="#000" stroke-width="1"/>
<line x1="1914.51" y1="313.99" x2="1923.31" y2="313.99" stroke="#000" stroke-width="2.3" stroke-linecap="round"/>
<line x1="1914.51" y1="330.96" x2="1923.31" y2="330.96" stroke="#000" stroke-width="2.3" stroke-linecap="round"/>
<line x1="1534.26" y1="347.93" x2="1534.26" y2="360.73" stroke="#000" stroke-width="1.8" />
<circle cx="1534.26" cy="353.68" r="5.4" fill="url(#pb)"/>
<circle cx="1534.26" cy="347.93" r="2.6" fill="#9a00ff" stroke="#000" stroke-width="1"/>
<circle cx="1534.26" cy="353.16" r="2.6" fill="#9a00ff" stroke="#000" stroke-width="1"/>
<circle cx="1534.26" cy="361.77" r="2.6" fill="#9a00ff" stroke="#000" stroke-width="1"/>
<line x1="1529.86" y1="347.93" x2="1538.66" y2="347.93" stroke="#000" stroke-width="2.3" stroke-linecap="round"/>
<line x1="1529.86" y1="360.73" x2="1538.66" y2="360.73" stroke="#000" stroke-width="2.3" stroke-linecap="round"/>
<line x1="1630.42" y1="266.99" x2="1630.42" y2="277.44" stroke="#000" stroke-width="1.8" />
<circle cx="1630.42" cy="271.69" r="5.4" fill="url(#pb)"/>
<circle cx="1630.42" cy="268.3" r="2.6" fill="#9a00ff" stroke="#000" stroke-width="1"/>
<circle cx="1630.42" cy="272.21" r="2.6" fill="#9a00ff" stroke="#000" stroke-width="1"/>
<circle cx="1630.42" cy="277.44" r="2.6" fill="#9a00ff" stroke="#000" stroke-width="1"/>
<line x1="1626.02" y1="266.99" x2="1634.83" y2="266.99" stroke="#000" stroke-width="2.3" stroke-linecap="round"/>
<line x1="1626.02" y1="277.44" x2="1634.83" y2="277.44" stroke="#000" stroke-width="2.3" stroke-linecap="round"/>
<line x1="1726.59" y1="220.26" x2="1726.59" y2="236.7" stroke="#000" stroke-width="1.8" />
<circle cx="1726.59" cy="227.31" r="5.4" fill="url(#pb)"/>
<circle cx="1726.59" cy="214.77" r="2.6" fill="#9a00ff" stroke="#000" stroke-width="1"/>
<circle cx="1726.59" cy="227.31" r="2.6" fill="#9a00ff" stroke="#000" stroke-width="1"/>
<circle cx="1726.59" cy="235.14" r="2.6" fill="#9a00ff" stroke="#000" stroke-width="1"/>
<line x1="1722.19" y1="220.26" x2="1730.99" y2="220.26" stroke="#000" stroke-width="2.3" stroke-linecap="round"/>
<line x1="1722.19" y1="236.7" x2="1730.99" y2="236.7" stroke="#000" stroke-width="2.3" stroke-linecap="round"/>
<line x1="1822.75" y1="208.25" x2="1822.75" y2="225.22" stroke="#000" stroke-width="1.8" />
<circle cx="1822.75" cy="215.29" r="5.4" fill="url(#pb)"/>
<circle cx="1822.75" cy="208.25" r="2.6" fill="#9a00ff" stroke="#000" stroke-width="1"/>
<circle cx="1822.75" cy="215.29" r="2.6" fill="#9a00ff" stroke="#000" stroke-width="1"/>
<circle cx="1822.75" cy="225.48" r="2.6" fill="#9a00ff" stroke="#000" stroke-width="1"/>
<line x1="1818.35" y1="208.25" x2="1827.15" y2="208.25" stroke="#000" stroke-width="2.3" stroke-linecap="round"/>
<line x1="1818.35" y1="225.22" x2="1827.15" y2="225.22" stroke="#000" stroke-width="2.3" stroke-linecap="round"/>
<line x1="1918.91" y1="203.55" x2="1918.91" y2="220.78" stroke="#000" stroke-width="1.8" />
<circle cx="1918.91" cy="212.68" r="5.4" fill="url(#pb)"/>
<circle cx="1918.91" cy="203.02" r="2.6" fill="#9a00ff" stroke="#000" stroke-width="1"/>
<circle cx="1918.91" cy="212.68" r="2.6" fill="#9a00ff" stroke="#000" stroke-width="1"/>
<circle cx="1918.91" cy="221.3" r="2.6" fill="#9a00ff" stroke="#000" stroke-width="1"/>
<line x1="1914.51" y1="203.55" x2="1923.31" y2="203.55" stroke="#000" stroke-width="2.3" stroke-linecap="round"/>
<line x1="1914.51" y1="220.78" x2="1923.31" y2="220.78" stroke="#000" stroke-width="2.3" stroke-linecap="round"/>
<line x1="1534.26" y1="291.54" x2="1534.26" y2="306.94" stroke="#000" stroke-width="1.8" />
<circle cx="1534.26" cy="298.06" r="5.4" fill="url(#bb)"/>
<circle cx="1534.26" cy="291.54" r="2.6" fill="#0080ff" stroke="#000" stroke-width="1"/>
<circle cx="1534.26" cy="297.28" r="2.6" fill="#0080ff" stroke="#000" stroke-width="1"/>
<circle cx="1534.26" cy="308.77" r="2.6" fill="#0080ff" stroke="#000" stroke-width="1"/>
<line x1="1529.86" y1="291.54" x2="1538.66" y2="291.54" stroke="#000" stroke-width="2.3" stroke-linecap="round"/>
<line x1="1529.86" y1="306.94" x2="1538.66" y2="306.94" stroke="#000" stroke-width="2.3" stroke-linecap="round"/>
<line x1="1630.42" y1="169.08" x2="1630.42" y2="187.36" stroke="#000" stroke-width="1.8" />
<circle cx="1630.42" cy="178.22" r="5.4" fill="url(#bb)"/>
<circle cx="1630.42" cy="169.08" r="2.6" fill="#0080ff" stroke="#000" stroke-width="1"/>
<circle cx="1630.42" cy="176.91" r="2.6" fill="#0080ff" stroke="#000" stroke-width="1"/>
<circle cx="1630.42" cy="188.66" r="2.6" fill="#0080ff" stroke="#000" stroke-width="1"/>
<line x1="1626.02" y1="169.08" x2="1634.83" y2="169.08" stroke="#000" stroke-width="2.3" stroke-linecap="round"/>
<line x1="1626.02" y1="187.36" x2="1634.83" y2="187.36" stroke="#000" stroke-width="2.3" stroke-linecap="round"/>
<line x1="1726.59" y1="105.63" x2="1726.59" y2="123.91" stroke="#000" stroke-width="1.8" />
<circle cx="1726.59" cy="115.29" r="5.4" fill="url(#bb)"/>
<circle cx="1726.59" cy="104.33" r="2.6" fill="#0080ff" stroke="#000" stroke-width="1"/>
<circle cx="1726.59" cy="111.64" r="2.6" fill="#0080ff" stroke="#000" stroke-width="1"/>
<circle cx="1726.59" cy="130.96" r="2.6" fill="#0080ff" stroke="#000" stroke-width="1"/>
<line x1="1722.19" y1="105.63" x2="1730.99" y2="105.63" stroke="#000" stroke-width="2.3" stroke-linecap="round"/>
<line x1="1722.19" y1="123.91" x2="1730.99" y2="123.91" stroke="#000" stroke-width="2.3" stroke-linecap="round"/>
<line x1="1822.75" y1="93.1" x2="1822.75" y2="111.64" stroke="#000" stroke-width="1.8" />
<circle cx="1822.75" cy="102.76" r="5.4" fill="url(#bb)"/>
<circle cx="1822.75" cy="92.06" r="2.6" fill="#0080ff" stroke="#000" stroke-width="1"/>
<circle cx="1822.75" cy="100.41" r="2.6" fill="#0080ff" stroke="#000" stroke-width="1"/>
<circle cx="1822.75" cy="116.86" r="2.6" fill="#0080ff" stroke="#000" stroke-width="1"/>
<line x1="1818.35" y1="93.1" x2="1827.15" y2="93.1" stroke="#000" stroke-width="2.3" stroke-linecap="round"/>
<line x1="1818.35" y1="111.64" x2="1827.15" y2="111.64" stroke="#000" stroke-width="2.3" stroke-linecap="round"/>
<line x1="1918.91" y1="88.14" x2="1918.91" y2="108.24" stroke="#000" stroke-width="1.8" />
<circle cx="1918.91" cy="99.11" r="5.4" fill="url(#bb)"/>
<circle cx="1918.91" cy="86.83" r="2.6" fill="#0080ff" stroke="#000" stroke-width="1"/>
<circle cx="1918.91" cy="99.63" r="2.6" fill="#0080ff" stroke="#000" stroke-width="1"/>
<circle cx="1918.91" cy="109.03" r="2.6" fill="#0080ff" stroke="#000" stroke-width="1"/>
<line x1="1914.51" y1="88.14" x2="1923.31" y2="88.14" stroke="#000" stroke-width="2.3" stroke-linecap="round"/>
<line x1="1914.51" y1="108.24" x2="1923.31" y2="108.24" stroke="#000" stroke-width="2.3" stroke-linecap="round"/>
<text x="1714.5" y="548.2" font-size="27.4" text-anchor="middle" font-weight="normal" fill="#000" stroke="#000" stroke-width="0.4" >Time (d)</text>
<text x="1386" y="265.4" font-size="27.3" text-anchor="middle" font-weight="normal" fill="#000" stroke="#000" stroke-width="0.4" transform="rotate(-90 1386 265.4)" >Uranium Uptake (mg/g)</text>
<text x="1376.5" y="29.6" font-size="38" text-anchor="start" font-weight="bold" fill="#000" >c</text>
<line x1="1447.2" y1="61.3" x2="1497.7" y2="61.3" stroke="#ff0000" stroke-width="5" stroke-linecap="round"/>
<circle cx="1472.4" cy="61.3" r="5.4" fill="url(#rb)"/>
<text x="1503.5" y="69.6" font-size="23.5" text-anchor="start" font-weight="normal" fill="#000" stroke="#000" stroke-width="0.4" >IM-PAO</text>
<line x1="1447.2" y1="89.3" x2="1497.7" y2="89.3" stroke="#9a00ff" stroke-width="5" stroke-linecap="round"/>
<circle cx="1472.4" cy="89.3" r="5.4" fill="url(#pb)"/>
<text x="1503.5" y="97.6" font-size="23.5" text-anchor="start" font-weight="normal" fill="#000" stroke="#000" stroke-width="0.4" >LP-PAO</text>
<line x1="1447.2" y1="117.3" x2="1497.7" y2="117.3" stroke="#0080ff" stroke-width="5" stroke-linecap="round"/>
<circle cx="1472.4" cy="117.3" r="5.4" fill="url(#bb)"/>
<text x="1503.5" y="125.6" font-size="23.5" text-anchor="start" font-weight="normal" fill="#000" stroke="#000" stroke-width="0.4" >HTC-PAO</text>
<text x="1793" y="66.8" font-size="23" text-anchor="start" font-weight="normal" fill="#000" stroke="#000" stroke-width="0.4" >Mean ± SD (n = 3)</text>
<text x="1848" y="137.3" font-size="22.8" text-anchor="start" font-weight="normal" fill="#000" stroke="#000" stroke-width="0.4" >14.69 mg/g</text>
<text x="1848" y="249.2" font-size="22.8" text-anchor="start" font-weight="normal" fill="#000" stroke="#000" stroke-width="0.4" >10.32 mg/g</text>
<text x="1862.5" y="359.6" font-size="22.8" text-anchor="start" font-weight="normal" fill="#000" stroke="#000" stroke-width="0.4" >6.12 mg/g</text>
<rect x="89.81" y="662.91" width="38.4" height="410.59" fill="#a0005a"/>
<text x="119.01" y="647.31" font-size="22.9" text-anchor="start" font-weight="normal" fill="#000" stroke="#000" stroke-width="0.4" transform="rotate(-90 119.01 647.31)" >14.69</text>
<rect x="163.43" y="801.55" width="38.4" height="271.95" fill="#c80606"/>
<text x="191.33" y="794.35" font-size="22.2" text-anchor="start" font-weight="normal" fill="#000" stroke="#000" stroke-width="0.4" transform="rotate(-90 191.33 794.35)" >9.73</text>
<rect x="237.05" y="799.87" width="38.4" height="273.63" fill="#b0560d"/>
<text x="264.95" y="792.67" font-size="22.2" text-anchor="start" font-weight="normal" fill="#000" stroke="#000" stroke-width="0.4" transform="rotate(-90 264.95 792.67)" >9.79</text>
<rect x="310.67" y="792.04" width="38.4" height="281.46" fill="#a67d16"/>
<text x="338.57" y="784.84" font-size="22.2" text-anchor="start" font-weight="normal" fill="#000" stroke="#000" stroke-width="0.4" transform="rotate(-90 338.57 784.84)" >10.07</text>
<rect x="384.29" y="898.53" width="38.4" height="174.97" fill="#a89f17"/>
<text x="412.19" y="891.33" font-size="22.2" text-anchor="start" font-weight="normal" fill="#000" stroke="#000" stroke-width="0.4" transform="rotate(-90 412.19 891.33)" >6.26</text>
<rect x="457.91" y="935.15" width="38.4" height="138.35" fill="#6ba516"/>
<text x="485.81" y="927.95" font-size="22.2" text-anchor="start" font-weight="normal" fill="#000" stroke="#000" stroke-width="0.4" transform="rotate(-90 485.81 927.95)" >4.95</text>
<rect x="531.52" y="912.79" width="38.4" height="160.71" fill="#009200"/>
<text x="559.43" y="905.59" font-size="22.2" text-anchor="start" font-weight="normal" fill="#000" stroke="#000" stroke-width="0.4" transform="rotate(-90 559.43 905.59)" >5.75</text>
<rect x="605.14" y="884.56" width="38.4" height="188.94" fill="#008e63"/>
<text x="633.04" y="877.36" font-size="22.2" text-anchor="start" font-weight="normal" fill="#000" stroke="#000" stroke-width="0.4" transform="rotate(-90 633.04 877.36)" >6.76</text>
<rect x="678.76" y="889.03" width="38.4" height="184.47" fill="#008a88"/>
<text x="706.66" y="881.83" font-size="22.2" text-anchor="start" font-weight="normal" fill="#000" stroke="#000" stroke-width="0.4" transform="rotate(-90 706.66 881.83)" >6.6</text>
<rect x="752.38" y="797.91" width="38.4" height="275.59" fill="#0069ad"/>
<text x="780.28" y="790.71" font-size="22.2" text-anchor="start" font-weight="normal" fill="#000" stroke="#000" stroke-width="0.4" transform="rotate(-90 780.28 790.71)" >9.86</text>
<rect x="826" y="933.75" width="38.4" height="139.75" fill="#0016c0"/>
<text x="853.9" y="926.55" font-size="22.2" text-anchor="start" font-weight="normal" fill="#000" stroke="#000" stroke-width="0.4" transform="rotate(-90 853.9 926.55)" >5</text>
<rect x="899.62" y="986.3" width="38.4" height="87.2" fill="#4a0090"/>
<text x="927.52" y="979.1" font-size="22.2" text-anchor="start" font-weight="normal" fill="#000" stroke="#000" stroke-width="0.4" transform="rotate(-90 927.52 979.1)" >3.12</text>
<rect x="973.24" y="998.03" width="38.4" height="75.47" fill="#6a0088"/>
<text x="1001.14" y="990.83" font-size="22.2" text-anchor="start" font-weight="normal" fill="#000" stroke="#000" stroke-width="0.4" transform="rotate(-90 1001.14 990.83)" >2.7</text>
<rect x="1046.86" y="801.27" width="38.4" height="272.23" fill="#a0005a"/>
<text x="1074.76" y="794.07" font-size="22.2" text-anchor="start" font-weight="normal" fill="#000" stroke="#000" stroke-width="0.4" transform="rotate(-90 1074.76 794.07)" >9.74</text>
<rect x="1120.48" y="911.39" width="38.4" height="162.11" fill="#c80606"/>
<text x="1148.38" y="904.19" font-size="22.2" text-anchor="start" font-weight="normal" fill="#000" stroke="#000" stroke-width="0.4" transform="rotate(-90 1148.38 904.19)" >5.8</text>
<rect x="1194.1" y="864.99" width="38.4" height="208.51" fill="#b0560d"/>
<text x="1222" y="857.79" font-size="22.2" text-anchor="start" font-weight="normal" fill="#000" stroke="#000" stroke-width="0.4" transform="rotate(-90 1222 857.79)" >7.46</text>
<rect x="1267.72" y="885.4" width="38.4" height="188.1" fill="#a67d16"/>
<text x="1295.62" y="878.2" font-size="22.2" text-anchor="start" font-weight="normal" fill="#000" stroke="#000" stroke-width="0.4" transform="rotate(-90 1295.62 878.2)" >6.73</text>
<rect x="1341.34" y="719.37" width="38.4" height="354.13" fill="#a89f17"/>
<text x="1369.24" y="712.17" font-size="22.2" text-anchor="start" font-weight="normal" fill="#000" stroke="#000" stroke-width="0.4" transform="rotate(-90 1369.24 712.17)" >12.67</text>
<rect x="1414.96" y="984.34" width="38.4" height="89.16" fill="#6ba516"/>
<text x="1442.86" y="977.14" font-size="22.2" text-anchor="start" font-weight="normal" fill="#000" stroke="#000" stroke-width="0.4" transform="rotate(-90 1442.86 977.14)" >3.19</text>
<rect x="1488.58" y="834.25" width="38.4" height="239.25" fill="#009200"/>
<text x="1516.48" y="827.05" font-size="22.2" text-anchor="start" font-weight="normal" fill="#000" stroke="#000" stroke-width="0.4" transform="rotate(-90 1516.48 827.05)" >8.56</text>
<rect x="1562.19" y="936.27" width="38.4" height="137.23" fill="#008e63"/>
<text x="1590.09" y="929.07" font-size="22.2" text-anchor="start" font-weight="normal" fill="#000" stroke="#000" stroke-width="0.4" transform="rotate(-90 1590.09 929.07)" >4.91</text>
<rect x="1635.81" y="832.57" width="38.4" height="240.93" fill="#008a88"/>
<text x="1665.61" y="823.87" font-size="27.2" text-anchor="start" font-weight="normal" fill="#000" stroke="#000" stroke-width="0.4" transform="rotate(-90 1665.61 823.87)" >8.62</text>
<rect x="1709.43" y="785.34" width="38.4" height="288.16" fill="#0069ad"/>
<text x="1737.33" y="778.14" font-size="22.2" text-anchor="start" font-weight="normal" fill="#000" stroke="#000" stroke-width="0.4" transform="rotate(-90 1737.33 778.14)" >10.31</text>
<rect x="1783.05" y="815.52" width="38.4" height="257.98" fill="#0016c0"/>
<text x="1810.95" y="808.32" font-size="22.2" text-anchor="start" font-weight="normal" fill="#000" stroke="#000" stroke-width="0.4" transform="rotate(-90 1810.95 808.32)" >9.23</text>
<rect x="1856.67" y="838.16" width="38.4" height="235.34" fill="#4a0090"/>
<text x="1884.57" y="830.96" font-size="22.2" text-anchor="start" font-weight="normal" fill="#000" stroke="#000" stroke-width="0.4" transform="rotate(-90 1884.57 830.96)" >8.42</text>
<rect x="1930.29" y="813.84" width="38.4" height="259.66" fill="#6a0088"/>
<text x="1958.19" y="806.64" font-size="22.2" text-anchor="start" font-weight="normal" fill="#000" stroke="#000" stroke-width="0.4" transform="rotate(-90 1958.19 806.64)" >9.29</text>
<path d="M82.5,1068.5 L133.5,1068.5 L133.5,652.0 L82.5,652.0 Z" fill="none" stroke="#ff0000" stroke-width="6.4" stroke-dasharray="17.4 6.68"/>
<text x="136.3" y="661.8" font-size="27.6" text-anchor="start" font-weight="bold" fill="#ff0000" word-spacing="1.1">This work</text>
<line x1="62.1" y1="1073.5" x2="72.2" y2="1073.5" stroke="#000" stroke-width="4" />
<text x="55.6" y="1081.8" font-size="23.2" text-anchor="end" font-weight="normal" fill="#000" stroke="#000" stroke-width="0.4" >0</text>
<line x1="62.1" y1="1017.6" x2="72.2" y2="1017.6" stroke="#000" stroke-width="4" />
<text x="55.6" y="1025.9" font-size="23.2" text-anchor="end" font-weight="normal" fill="#000" stroke="#000" stroke-width="0.4" >2</text>
<line x1="62.1" y1="961.7" x2="72.2" y2="961.7" stroke="#000" stroke-width="4" />
<text x="55.6" y="970" font-size="23.2" text-anchor="end" font-weight="normal" fill="#000" stroke="#000" stroke-width="0.4" >4</text>
<line x1="62.1" y1="905.8" x2="72.2" y2="905.8" stroke="#000" stroke-width="4" />
<text x="55.6" y="914.1" font-size="23.2" text-anchor="end" font-weight="normal" fill="#000" stroke="#000" stroke-width="0.4" >6</text>
<line x1="62.1" y1="849.9" x2="72.2" y2="849.9" stroke="#000" stroke-width="4" />
<text x="55.6" y="858.2" font-size="23.2" text-anchor="end" font-weight="normal" fill="#000" stroke="#000" stroke-width="0.4" >8</text>
<line x1="62.1" y1="794" x2="72.2" y2="794" stroke="#000" stroke-width="4" />
<text x="55.6" y="802.3" font-size="23.2" text-anchor="end" font-weight="normal" fill="#000" stroke="#000" stroke-width="0.4" >10</text>
<line x1="62.1" y1="738.1" x2="72.2" y2="738.1" stroke="#000" stroke-width="4" />
<text x="55.6" y="746.4" font-size="23.2" text-anchor="end" font-weight="normal" fill="#000" stroke="#000" stroke-width="0.4" >12</text>
<line x1="62.1" y1="682.2" x2="72.2" y2="682.2" stroke="#000" stroke-width="4" />
<text x="55.6" y="690.5" font-size="23.2" text-anchor="end" font-weight="normal" fill="#000" stroke="#000" stroke-width="0.4" >14</text>
<line x1="62.1" y1="626.3" x2="72.2" y2="626.3" stroke="#000" stroke-width="4" />
<text x="55.6" y="634.6" font-size="23.2" text-anchor="end" font-weight="normal" fill="#000" stroke="#000" stroke-width="0.4" >16</text>
<line x1="62.1" y1="570.4" x2="72.2" y2="570.4" stroke="#000" stroke-width="4" />
<text x="55.6" y="578.7" font-size="23.2" text-anchor="end" font-weight="normal" fill="#000" stroke="#000" stroke-width="0.4" >18</text>
<line x1="67.1" y1="1045.55" x2="72.2" y2="1045.55" stroke="#000" stroke-width="3.8" />
<line x1="67.1" y1="989.65" x2="72.2" y2="989.65" stroke="#000" stroke-width="3.8" />
<line x1="67.1" y1="933.75" x2="72.2" y2="933.75" stroke="#000" stroke-width="3.8" />
<line x1="67.1" y1="877.85" x2="72.2" y2="877.85" stroke="#000" stroke-width="3.8" />
<line x1="67.1" y1="821.95" x2="72.2" y2="821.95" stroke="#000" stroke-width="3.8" />
<line x1="67.1" y1="766.05" x2="72.2" y2="766.05" stroke="#000" stroke-width="3.8" />
<line x1="67.1" y1="710.15" x2="72.2" y2="710.15" stroke="#000" stroke-width="3.8" />
<line x1="67.1" y1="654.25" x2="72.2" y2="654.25" stroke="#000" stroke-width="3.8" />
<line x1="67.1" y1="598.35" x2="72.2" y2="598.35" stroke="#000" stroke-width="3.8" />
<line x1="109.01" y1="1073.5" x2="109.01" y2="1083.6" stroke="#000" stroke-width="3.7" />
<text x="109.01" y="1109.6" font-size="23.5" text-anchor="middle" font-weight="normal" fill="#000" stroke="#000" stroke-width="0.4" >a</text>
<line x1="182.63" y1="1073.5" x2="182.63" y2="1083.6" stroke="#000" stroke-width="3.7" />
<text x="182.63" y="1109.6" font-size="23.5" text-anchor="middle" font-weight="normal" fill="#000" stroke="#000" stroke-width="0.4" >b</text>
<line x1="256.25" y1="1073.5" x2="256.25" y2="1083.6" stroke="#000" stroke-width="3.7" />
<text x="256.25" y="1109.6" font-size="23.5" text-anchor="middle" font-weight="normal" fill="#000" stroke="#000" stroke-width="0.4" >c</text>
<line x1="329.87" y1="1073.5" x2="329.87" y2="1083.6" stroke="#000" stroke-width="3.7" />
<text x="329.87" y="1109.6" font-size="23.5" text-anchor="middle" font-weight="normal" fill="#000" stroke="#000" stroke-width="0.4" >d</text>
<line x1="403.49" y1="1073.5" x2="403.49" y2="1083.6" stroke="#000" stroke-width="3.7" />
<text x="403.49" y="1109.6" font-size="23.5" text-anchor="middle" font-weight="normal" fill="#000" stroke="#000" stroke-width="0.4" >e</text>
<line x1="477.11" y1="1073.5" x2="477.11" y2="1083.6" stroke="#000" stroke-width="3.7" />
<text x="477.11" y="1109.6" font-size="23.5" text-anchor="middle" font-weight="normal" fill="#000" stroke="#000" stroke-width="0.4" >f</text>
<line x1="550.73" y1="1073.5" x2="550.73" y2="1083.6" stroke="#000" stroke-width="3.7" />
<text x="550.73" y="1109.6" font-size="23.5" text-anchor="middle" font-weight="normal" fill="#000" stroke="#000" stroke-width="0.4" >g</text>
<line x1="624.34" y1="1073.5" x2="624.34" y2="1083.6" stroke="#000" stroke-width="3.7" />
<text x="624.34" y="1109.6" font-size="23.5" text-anchor="middle" font-weight="normal" fill="#000" stroke="#000" stroke-width="0.4" >h</text>
<line x1="697.96" y1="1073.5" x2="697.96" y2="1083.6" stroke="#000" stroke-width="3.7" />
<text x="697.96" y="1109.6" font-size="23.5" text-anchor="middle" font-weight="normal" fill="#000" stroke="#000" stroke-width="0.4" >i</text>
<line x1="771.58" y1="1073.5" x2="771.58" y2="1083.6" stroke="#000" stroke-width="3.7" />
<text x="771.58" y="1109.6" font-size="23.5" text-anchor="middle" font-weight="normal" fill="#000" stroke="#000" stroke-width="0.4" >j</text>
<line x1="845.2" y1="1073.5" x2="845.2" y2="1083.6" stroke="#000" stroke-width="3.7" />
<text x="845.2" y="1109.6" font-size="23.5" text-anchor="middle" font-weight="normal" fill="#000" stroke="#000" stroke-width="0.4" >k</text>
<line x1="918.82" y1="1073.5" x2="918.82" y2="1083.6" stroke="#000" stroke-width="3.7" />
<text x="918.82" y="1109.6" font-size="23.5" text-anchor="middle" font-weight="normal" fill="#000" stroke="#000" stroke-width="0.4" >l</text>
<line x1="992.44" y1="1073.5" x2="992.44" y2="1083.6" stroke="#000" stroke-width="3.7" />
<text x="992.44" y="1109.6" font-size="23.5" text-anchor="middle" font-weight="normal" fill="#000" stroke="#000" stroke-width="0.4" >m</text>
<line x1="1066.06" y1="1073.5" x2="1066.06" y2="1083.6" stroke="#000" stroke-width="3.7" />
<text x="1066.06" y="1109.6" font-size="23.5" text-anchor="middle" font-weight="normal" fill="#000" stroke="#000" stroke-width="0.4" >n</text>
<line x1="1139.68" y1="1073.5" x2="1139.68" y2="1083.6" stroke="#000" stroke-width="3.7" />
<text x="1139.68" y="1109.6" font-size="23.5" text-anchor="middle" font-weight="normal" fill="#000" stroke="#000" stroke-width="0.4" >o</text>
<line x1="1213.3" y1="1073.5" x2="1213.3" y2="1083.6" stroke="#000" stroke-width="3.7" />
<text x="1213.3" y="1109.6" font-size="23.5" text-anchor="middle" font-weight="normal" fill="#000" stroke="#000" stroke-width="0.4" >p</text>
<line x1="1286.92" y1="1073.5" x2="1286.92" y2="1083.6" stroke="#000" stroke-width="3.7" />
<text x="1286.92" y="1109.6" font-size="23.5" text-anchor="middle" font-weight="normal" fill="#000" stroke="#000" stroke-width="0.4" >q</text>
<line x1="1360.54" y1="1073.5" x2="1360.54" y2="1083.6" stroke="#000" stroke-width="3.7" />
<text x="1360.54" y="1109.6" font-size="23.5" text-anchor="middle" font-weight="normal" fill="#000" stroke="#000" stroke-width="0.4" >r</text>
<line x1="1434.16" y1="1073.5" x2="1434.16" y2="1083.6" stroke="#000" stroke-width="3.7" />
<text x="1434.16" y="1109.6" font-size="23.5" text-anchor="middle" font-weight="normal" fill="#000" stroke="#000" stroke-width="0.4" >s</text>
<line x1="1507.78" y1="1073.5" x2="1507.78" y2="1083.6" stroke="#000" stroke-width="3.7" />
<text x="1507.78" y="1109.6" font-size="23.5" text-anchor="middle" font-weight="normal" fill="#000" stroke="#000" stroke-width="0.4" >t</text>
<line x1="1581.39" y1="1073.5" x2="1581.39" y2="1083.6" stroke="#000" stroke-width="3.7" />
<text x="1581.39" y="1109.6" font-size="23.5" text-anchor="middle" font-weight="normal" fill="#000" stroke="#000" stroke-width="0.4" >u</text>
<line x1="1655.01" y1="1073.5" x2="1655.01" y2="1083.6" stroke="#000" stroke-width="3.7" />
<text x="1655.01" y="1109.6" font-size="23.5" text-anchor="middle" font-weight="normal" fill="#000" stroke="#000" stroke-width="0.4" >v</text>
<line x1="1728.63" y1="1073.5" x2="1728.63" y2="1083.6" stroke="#000" stroke-width="3.7" />
<text x="1728.63" y="1109.6" font-size="23.5" text-anchor="middle" font-weight="normal" fill="#000" stroke="#000" stroke-width="0.4" >w</text>
<line x1="1802.25" y1="1073.5" x2="1802.25" y2="1083.6" stroke="#000" stroke-width="3.7" />
<text x="1802.25" y="1109.6" font-size="23.5" text-anchor="middle" font-weight="normal" fill="#000" stroke="#000" stroke-width="0.4" >x</text>
<line x1="1875.87" y1="1073.5" x2="1875.87" y2="1083.6" stroke="#000" stroke-width="3.7" />
<text x="1875.87" y="1109.6" font-size="23.5" text-anchor="middle" font-weight="normal" fill="#000" stroke="#000" stroke-width="0.4" >y</text>
<line x1="1949.49" y1="1073.5" x2="1949.49" y2="1083.6" stroke="#000" stroke-width="3.7" />
<text x="1949.49" y="1109.6" font-size="23.5" text-anchor="middle" font-weight="normal" fill="#000" stroke="#000" stroke-width="0.4" >z</text>
<rect x="72.2" y="570.4" width="1914.1" height="503.1" fill="none" stroke="#000" stroke-width="4.2"/>
<text x="19.9" y="822.3" font-size="25.2" text-anchor="middle" font-weight="normal" fill="#000" stroke="#000" stroke-width="0.4" transform="rotate(-90 19.9 822.3)" >U-uptake (mg/g)</text>
<text x="5.4" y="569" font-size="38" text-anchor="start" font-weight="bold" fill="#000" >d</text>
</svg>
</body></html>
